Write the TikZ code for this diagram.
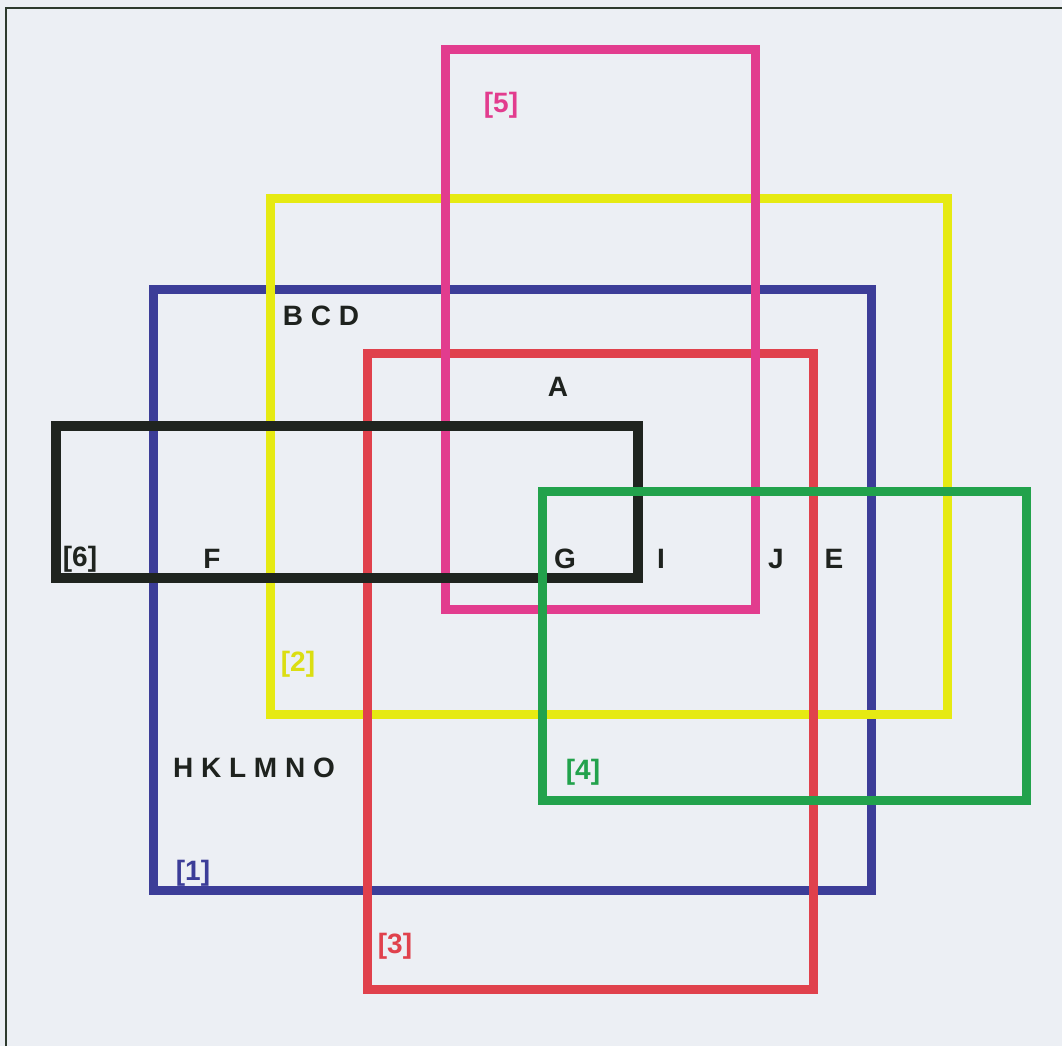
\documentclass[tikz,border=0pt]{standalone}
\usepackage{xcolor}
\usepackage{tikz}
\usepackage{fontspec}
\setmainfont{Liberation Sans}
\usetikzlibrary{positioning}
\definecolor{SetPaper}{HTML}{ECEFF4}
\definecolor{SetFrame}{HTML}{2E3A2E}
\definecolor{SetInk}{HTML}{1E221E}
\definecolor{SetBlue}{HTML}{3C3D98}
\definecolor{SetYellow}{HTML}{E6EA12}
\definecolor{SetRed}{HTML}{E0414C}
\definecolor{SetPink}{HTML}{E23C8E}
\definecolor{SetBlack}{HTML}{1F241F}
\definecolor{SetGreen}{HTML}{22A24C}
\tikzset{
  setrect/.style={
    line width=9pt,
    fill=none
  },
  setlabel/.style={
    font=\fontsize{28}{30}\selectfont\bfseries,
    inner sep=0pt,
    anchor=center
  },
  member/.style={setlabel,text=SetInk}
}
\newcommand{\setregion}[6]{%
  \draw[setrect,draw=#1,#6] (#2,#3) rectangle (#4,#5);%
}

\begin{document}
\begin{tikzpicture}[x=1pt,y=-1pt]
  \useasboundingbox (0,0) rectangle (1062,1046);
  \fill[SetPaper] (0,0) rectangle (1062,1046);
  \draw[SetFrame,line width=1.6pt] (6,1046) -- (6,8) -- (1062,8);
  % the six sets, bottom layer first
  \setregion{SetBlue}{153}{289}{871}{890}{}
  \setregion{SetYellow}{270}{198}{947}{714}{}
  \setregion{SetRed}{367}{353}{813}{989}{}
  \setregion{SetPink}{445}{50}{755}{609}{}
  \setregion{SetBlack}{56}{426}{638}{578}{line width=10.5pt}
  \setregion{SetGreen}{542}{491}{1026}{800}{}
  % set numbers
  \node[setlabel,text=SetPink] (five) at (501,105) {[5]};
  \node[setlabel,text=SetBlack] (six) at (80,559) {[6]};
  \node[setlabel,text=SetYellow!95!black] (two) at (298,664) {[2]};
  \node[setlabel,text=SetGreen] (four) at (583,772) {[4]};
  \node[setlabel,text=SetBlue] (one) at (193,873) {[1]};
  \node[setlabel,text=SetRed] (three) at (395,946) {[3]};
  % members
  \node[member] (bcd) at (321,316) {B C D};
  \node[member] (a) at (558,387) {A};
  \node[member] (f) at (212,559) {F};
  \node[member] (g) at (565,559) {G};
  \node[member] (i) at (661,559) {I};
  \node[member] (j) at (776,559) {J};
  \node[member] (e) at (834,559) {E};
  \node[member] (hko) at (254,768) {H K L M N O};
\end{tikzpicture}
\end{document}
